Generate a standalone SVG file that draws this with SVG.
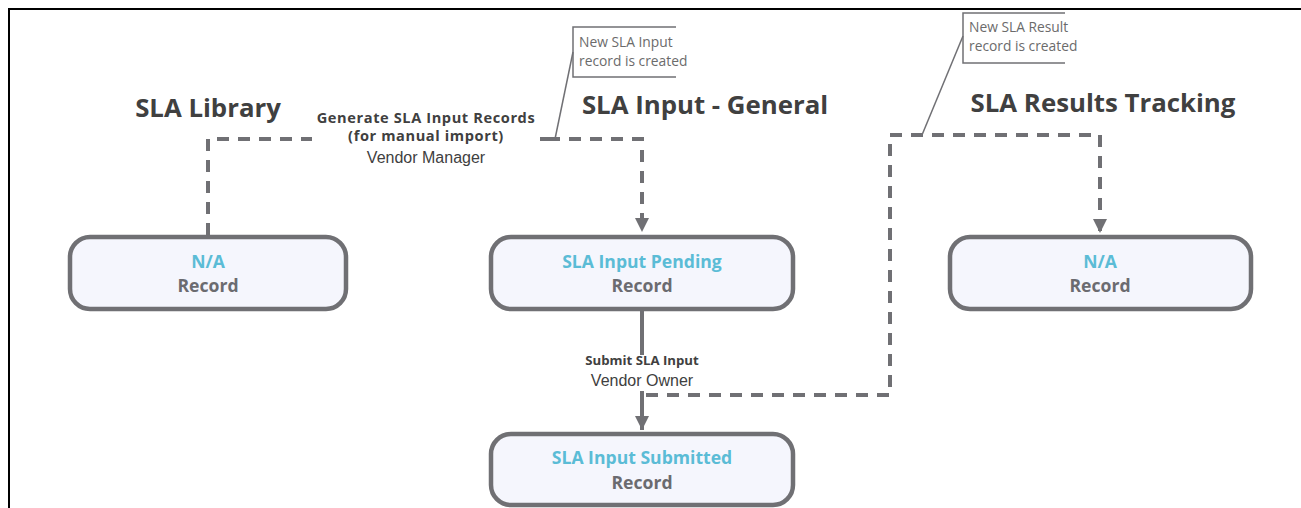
<svg xmlns="http://www.w3.org/2000/svg" width="1301" height="508" viewBox="0 0 1301 508">
<style>
.title{font-family:"Open Sans","Noto Sans","Liberation Sans",sans-serif;font-weight:700;font-size:25.8px;fill:#404040;text-anchor:middle}
.node rect{fill:#F5F6FD;stroke:#707074;stroke-width:4.5}
.st{font-family:"Open Sans","Noto Sans","Liberation Sans",sans-serif;font-weight:700;font-size:17.6px;fill:#5BBCD6;text-anchor:middle}
.rec{font-family:"Open Sans","Noto Sans","Liberation Sans",sans-serif;font-weight:700;font-size:17.6px;fill:#6B6B70;text-anchor:middle}
.dash{fill:none;stroke:#707074;stroke-width:4;stroke-dasharray:12 9}
.solid{fill:none;stroke:#707074;stroke-width:4}
.lb{font-family:"Open Sans","Noto Sans","Liberation Sans",sans-serif;font-weight:700;font-size:14.6px;letter-spacing:0.6px;fill:#404040;text-anchor:middle}
.lbs{font-family:"Open Sans","Noto Sans","Liberation Sans",sans-serif;font-weight:700;font-size:13.2px;fill:#404040;text-anchor:middle}
.lr{font-family:"Liberation Sans","Noto Sans",sans-serif;font-size:16px;fill:#404040;text-anchor:middle}
.co{fill:none;stroke:#707074;stroke-width:1.5}
.ct{font-family:"Open Sans","Noto Sans","Liberation Sans",sans-serif;font-size:13.8px;fill:#6B6B6B}
</style>
<defs>
<marker id="arr" viewBox="0 0 10 10" refX="10" refY="5" markerWidth="3.6" markerHeight="3.6" markerUnits="strokeWidth" orient="auto">
<path d="M0,0 L10,5 L0,10 z" fill="#707074"/>
</marker>
</defs>
<rect width="1301" height="508" fill="#fff"/>
<path d="M9,508 V9 H1301" fill="none" stroke="#000" stroke-width="2"/>

<g id="titles">
<text class="title" x="208" y="117">SLA Library</text>
<text class="title" x="705" y="114">SLA Input - General</text>
<text class="title" x="1103" y="112">SLA Results Tracking</text>
</g>

<g id="connectors">
<path class="dash" d="M208,235 V139 H312"/>
<path class="dash" d="M548,139 H642 V232" marker-end="url(#arr)"/>
<path class="solid" d="M540,139 H556"/>
<path class="solid" d="M642,311 V355"/>
<path class="solid" d="M642,391 V430" marker-end="url(#arr)"/>
<path class="dash" d="M646,395 H890 V135 H1100 V233" marker-end="url(#arr)"/>
<text class="lb" x="426" y="123">Generate SLA Input Records</text>
<text class="lb" x="426" y="141">(for manual import)</text>
<text class="lr" x="426" y="163">Vendor Manager</text>
<text class="lbs" x="642" y="365">Submit SLA Input</text>
<text class="lr" x="642" y="386">Vendor Owner</text>
</g>

<g id="callout-input">
<path class="co" d="M555,139 L573,52"/>
<path class="co" d="M676,27 H573 V77 H676"/>
<text class="ct" x="579" y="47">New SLA Input</text>
<text class="ct" x="579" y="66">record is created</text>
</g>

<g id="callout-result">
<path class="co" d="M922,135 L963,36"/>
<path class="co" d="M1065,13 H963 V63 H1065"/>
<text class="ct" x="969" y="32">New SLA Result</text>
<text class="ct" x="969" y="51">record is created</text>
</g>

<g id="node-library" class="node">
<rect x="70" y="237" width="276" height="72" rx="20"/>
<text class="st" x="208" y="268">N/A</text>
<text class="rec" x="208" y="292">Record</text>
</g>

<g id="node-pending" class="node">
<rect x="491" y="237" width="302" height="72" rx="20"/>
<text class="st" x="642" y="268">SLA Input Pending</text>
<text class="rec" x="642" y="292">Record</text>
</g>

<g id="node-submitted" class="node">
<rect x="491" y="434" width="302" height="71" rx="20"/>
<text class="st" x="642" y="464">SLA Input Submitted</text>
<text class="rec" x="642" y="489">Record</text>
</g>

<g id="node-results" class="node">
<rect x="950" y="237" width="301" height="72" rx="20"/>
<text class="st" x="1100" y="268">N/A</text>
<text class="rec" x="1100" y="292">Record</text>
</g>
</svg>
